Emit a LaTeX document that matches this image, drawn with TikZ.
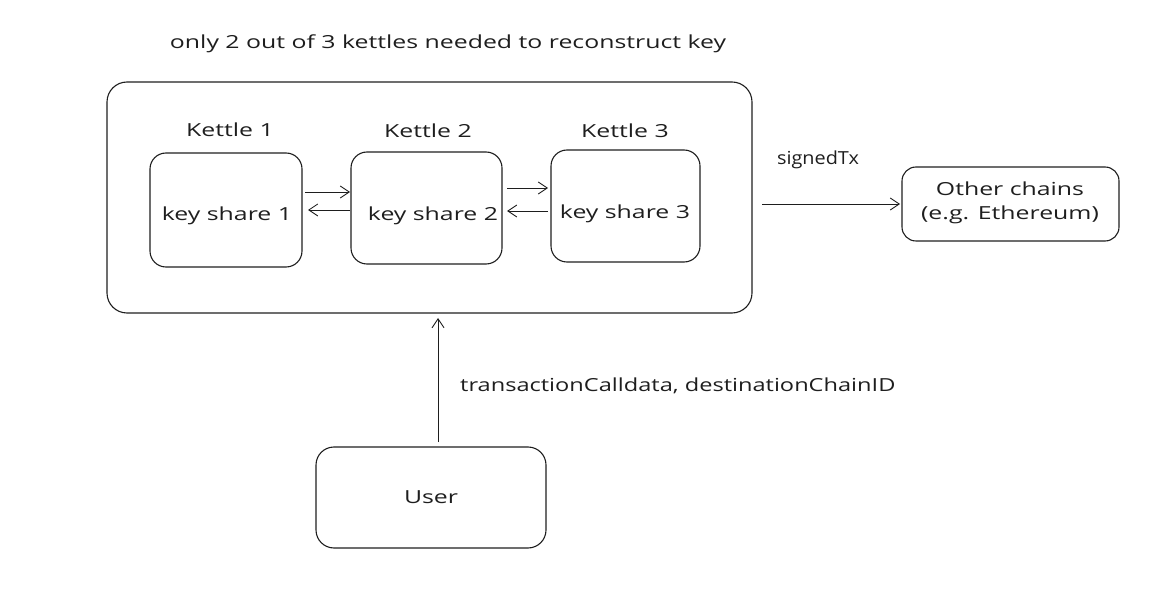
\documentclass[tikz,border=0pt]{standalone}
\usepackage{fontspec}
\setmainfont{Open Sans}[FakeStretch=1.38]
\usetikzlibrary{arrows.meta}
\definecolor{ink}{HTML}{1E1E1E}
\begin{document}
\begin{tikzpicture}[x=1pt,y=-1pt,
  every node/.style={text=ink,font=\fontsize{18}{24}\selectfont},
  box/.style={draw=ink,line width=1.1pt,rounded corners=16pt},
  conn/.style={draw=ink,line width=0.9pt,-{Straight Barb[length=9pt,width=12pt]}},
  lbl/.style={inner sep=0pt}]
\useasboundingbox (0,0) rectangle (1172,593);
\node[lbl] (title) at (448,44) {only 2 out of 3 kettles needed to reconstruct key};
\draw[box,rounded corners=20pt] (107,82) rectangle (752,313);
\coordinate (outerR) at (762,204);
\coordinate (outerB) at (438,318);
\node[lbl] (k1l) at (230,130) {Kettle 1};
\node[lbl] (k2l) at (428,131) {Kettle 2};
\node[lbl] (k3l) at (625,131) {Kettle 3};
\draw[box] (150,153) rectangle (302,267);
\draw[box] (351,152) rectangle (502,264);
\draw[box] (551,150) rectangle (700,262);
\node[lbl] (ks1) at (227,216) {key share 1};
\node[lbl] (ks2) at (433,216) {key share 2};
\node[lbl] (ks3) at (625,214) {key share 3};
\coordinate (a1s) at (305,192); \coordinate (a1e) at (350,192);
\coordinate (a2s) at (350,210); \coordinate (a2e) at (308,210);
\coordinate (a3s) at (507,188); \coordinate (a3e) at (548,188);
\coordinate (a4s) at (548,211); \coordinate (a4e) at (507,211);
\draw[conn] (a1s) -- (a1e);
\draw[conn] (a2s) -- (a2e);
\draw[conn] (a3s) -- (a3e);
\draw[conn] (a4s) -- (a4e);
\node[lbl,xscale=0.8] (stx) at (818,160) {signedTx};
\draw[box,rounded corners=14pt] (902,167) rectangle (1119,241);
\node[lbl,align=center] (oc) at (1010,203) {Other chains\\(e.g. Ethereum)};
\coordinate (ocL) at (900,204);
\draw[conn] (outerR) -- (ocL);
\draw[box,rounded corners=18pt] (316,447) rectangle (546,548);
\node[lbl] (user) at (431,497) {User};
\coordinate (userT) at (438,442);
\draw[conn] (userT) -- (outerB);
\node[lbl,anchor=west,xscale=0.95] (tcd) at (460,386) {transactionCalldata, destinationChainID};
\end{tikzpicture}
\end{document}
